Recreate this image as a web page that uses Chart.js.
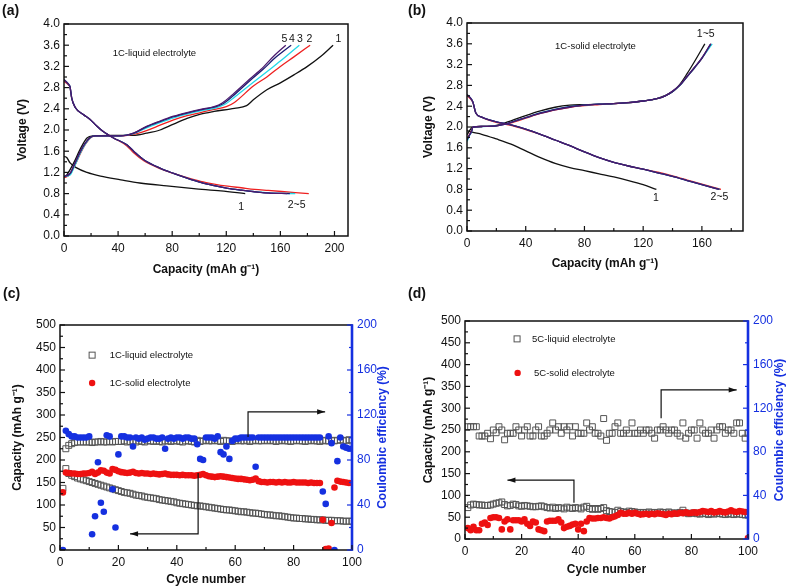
<!DOCTYPE html>
<html><head><meta charset="utf-8">
<script src="https://cdn.jsdelivr.net/npm/chart.js@4/dist/chart.umd.min.js"></script>
<style>
html,body{margin:0;padding:0;background:#fff}
body{width:787px;height:587px;position:relative;overflow:hidden}
canvas{position:absolute}
.lab{position:absolute;font:bold 14px 'Liberation Sans',Arial,sans-serif;color:#111;z-index:5}
</style></head><body>
<div class="lab" style="left:2px;top:2px">(a)</div>
<div class="lab" style="left:408px;top:2px">(b)</div>
<div class="lab" style="left:3px;top:285px">(c)</div>
<div class="lab" style="left:408px;top:285px">(d)</div>
<canvas id="ca" width="395" height="290" style="left:0;top:0"></canvas>
<canvas id="cb" width="387" height="290" style="left:400px;top:0"></canvas>
<canvas id="cc" width="395" height="292" style="left:0;top:295px"></canvas>
<canvas id="cd" width="387" height="292" style="left:400px;top:295px"></canvas>
<script>
// ---------- tick labels ----------
const aXTicks = [0,40,80,120,160,200];
const bXTicks = [0,40,80,120,160];
const vTicks = [0,0.4,0.8,1.2,1.6,2.0,2.4,2.8,3.2,3.6,4.0];
const cycleTicks = [0,20,40,60,80,100];
const capTicks = [0,50,100,150,200,250,300,350,400,450,500];
const ceTicks = [0,40,80,120,160,200];

// ---------- Panel (a): 1C liquid electrolyte, [capacity, voltage] ----------
const aCharge1 = [[0,1.1],[2,1.15],[7,1.37],[12,1.64],[17,1.85],[22,1.89],[35,1.9],[51,1.9],[61,1.94],[71,2.0],[81,2.11],[91,2.22],[101,2.3],[111,2.35],[126,2.41],[135,2.46],[140,2.57],[150,2.76],[160,2.89],[170,3.04],[180,3.2],[190,3.39],[199,3.6]];
const aDis1 = [[0,1.5],[2,1.48],[4.5,1.38],[9,1.29],[17,1.2],[27,1.13],[42,1.06],[56,1.0],[76,0.945],[96,0.895],[116,0.85],[134,0.8]];
const aCharge2 = [[0,1.1],[4,1.15],[8,1.33],[12,1.55],[16,1.74],[20,1.86],[24,1.89],[40,1.89],[47,1.9],[52,1.92],[61,1.99],[71,2.09],[81,2.19],[91,2.27],[101,2.33],[111,2.39],[120,2.44],[126,2.52],[140,2.83],[150,3.0],[160,3.2],[170,3.38],[182,3.6]];
const aDis2 = [[0,2.92],[2,2.88],[4,2.83],[4.5,2.8],[5.7,2.6],[8.2,2.43],[14.4,2.29],[19.3,2.2],[24,2.08],[29,1.97],[36.6,1.85],[46.5,1.7],[51.5,1.57],[59,1.42],[71,1.27],[81,1.18],[91,1.1],[101,1.03],[111,0.98],[121,0.94],[131,0.91],[141,0.88],[151,0.86],[161,0.84],[171,0.82],[181,0.8]];
const aCharge3 = [[0,1.12],[4.5,1.15],[8,1.33],[12,1.56],[15.6,1.73],[19.3,1.85],[23,1.89],[42,1.89],[51.5,1.93],[61,2.04],[71,2.14],[81,2.23],[91,2.3],[101,2.36],[111,2.41],[120,2.5],[126,2.62],[140,2.9],[150,3.1],[160,3.3],[174,3.6]];
const aDis3 = [[0,2.95],[2,2.9],[4,2.84],[4.5,2.81],[5.7,2.6],[8.2,2.43],[14.4,2.29],[19.3,2.2],[24,2.08],[29,1.97],[36.6,1.85],[46.5,1.72],[51.5,1.6],[59,1.44],[71,1.28],[81,1.18],[91,1.09],[101,1.01],[111,0.95],[121,0.9],[131,0.865],[141,0.835],[151,0.815],[161,0.805],[171,0.8]];
const aCharge4 = [[0,1.12],[4.5,1.18],[8,1.37],[12,1.59],[15.6,1.75],[19.3,1.86],[23,1.89],[42,1.89],[51.5,1.94],[61,2.06],[71,2.16],[81,2.25],[91,2.32],[101,2.38],[111,2.43],[118,2.5],[127,2.69],[137,2.92],[147,3.14],[157,3.38],[168,3.6]];
const aDis4 = [[0,2.95],[2,2.9],[4,2.84],[4.5,2.81],[5.7,2.6],[8.2,2.43],[14.4,2.29],[19.3,2.2],[24,2.08],[29,1.97],[36.6,1.85],[46.5,1.72],[51.5,1.6],[59,1.44],[71,1.28],[81,1.18],[91,1.09],[101,1.01],[111,0.95],[121,0.9],[131,0.865],[141,0.835],[151,0.812],[167,0.8]];
const aCharge5 = [[0,1.12],[4.5,1.18],[8,1.37],[12,1.59],[15.6,1.75],[19.3,1.86],[23,1.89],[42,1.89],[51.5,1.94],[61,2.07],[71,2.17],[81,2.26],[91,2.33],[101,2.39],[111,2.44],[117,2.51],[126,2.7],[135.6,2.92],[145.5,3.14],[155,3.39],[164,3.6]];
const aDis5 = [[0,2.95],[2,2.9],[4,2.84],[4.5,2.81],[5.7,2.6],[8.2,2.43],[14.4,2.29],[19.3,2.2],[24,2.08],[29,1.97],[36.6,1.85],[46.5,1.72],[51.5,1.6],[59,1.44],[71,1.28],[81,1.18],[91,1.09],[101,1.01],[111,0.95],[121,0.9],[131,0.865],[141,0.835],[151,0.81],[165,0.8]];
const aTexts = [
  {text:'1C-liquid electrolyte', x:36, y:3.45, align:'left', size:9.5},
  {text:'5', x:163, y:3.72, align:'center', size:10.5},
  {text:'4', x:168.5, y:3.72, align:'center', size:10.5},
  {text:'3', x:174.5, y:3.72, align:'center', size:10.5},
  {text:'2', x:181.5, y:3.72, align:'center', size:10.5},
  {text:'1', x:203, y:3.72, align:'center', size:10.5},
  {text:'1', x:131, y:0.55, align:'center', size:10.5},
  {text:'2~5', x:172, y:0.585, align:'center', size:10.5}
];

// ---------- Panel (b): 1C solid electrolyte ----------
const bCharge1 = [[0,1.85],[4,2.0],[10,2.01],[20,2.03],[30,2.12],[40,2.22],[50,2.31],[60,2.38],[70,2.42],[80,2.43],[100,2.45],[120,2.5],[130,2.55],[140,2.68],[145,2.82],[150,3.03],[155,3.26],[162,3.6]];
const bDis1 = [[0,1.93],[3.5,1.9],[10,1.86],[20,1.77],[30,1.67],[40,1.54],[50,1.41],[60,1.3],[70,1.22],[80,1.16],[90,1.1],[100,1.04],[110,0.97],[120,0.89],[129,0.8]];
const bCharge2 = [[0,1.78],[1.8,1.86],[3,1.92],[4.1,2.0],[10,2.01],[20,2.02],[25,2.05],[30,2.08],[40,2.17],[50,2.26],[60,2.33],[70,2.38],[80,2.41],[90,2.43],[100,2.45],[110,2.47],[120,2.5],[130,2.55],[135,2.6],[140,2.68],[145,2.8],[150,2.97],[155,3.14],[160,3.32],[166.5,3.6]];
const bDis2 = [[0,2.6],[2,2.55],[4,2.47],[6,2.27],[10,2.19],[20,2.09],[30,2.03],[40,1.95],[50,1.86],[60,1.75],[70,1.64],[80,1.52],[90,1.41],[100,1.32],[110,1.25],[120,1.19],[130,1.13],[140,1.06],[150,0.98],[160,0.9],[173,0.8]];
const bCharge3 = [[0,1.72],[1.8,1.84],[3,1.9],[4.1,2.0],[10,2.01],[20,2.02],[25,2.05],[30,2.09],[40,2.18],[50,2.27],[60,2.34],[70,2.39],[80,2.42],[90,2.44],[100,2.45],[110,2.47],[120,2.5],[130,2.55],[135,2.6],[140,2.68],[145,2.8],[150,2.97],[155,3.14],[160,3.32],[167,3.6]];
const bDis3 = [[0,2.62],[2,2.57],[4,2.48],[6,2.27],[10,2.19],[20,2.1],[30,2.04],[40,1.96],[50,1.86],[60,1.75],[70,1.64],[80,1.52],[90,1.41],[100,1.32],[110,1.25],[120,1.19],[130,1.12],[140,1.05],[150,0.97],[160,0.89],[172,0.8]];
const bCharge4 = [[0,1.75],[1.8,1.85],[3,1.91],[4.1,2.0],[10,2.01],[20,2.02],[25,2.05],[30,2.09],[40,2.18],[50,2.27],[60,2.34],[70,2.39],[80,2.42],[90,2.44],[100,2.45],[110,2.47],[120,2.5],[130,2.55],[135,2.6],[140,2.68],[145,2.8],[150,2.97],[155,3.14],[160,3.32],[166,3.6]];
const bDis4 = [[0,2.62],[2,2.57],[4,2.48],[6,2.27],[10,2.19],[20,2.1],[30,2.04],[40,1.96],[50,1.86],[60,1.75],[70,1.64],[80,1.52],[90,1.41],[100,1.32],[110,1.25],[120,1.19],[130,1.12],[140,1.05],[150,0.97],[160,0.89],[172,0.8]];
const bCharge5 = [[0,1.76],[1.8,1.85],[3,1.91],[4.1,2.0],[10,2.01],[20,2.02],[25,2.05],[30,2.09],[40,2.18],[50,2.26],[60,2.33],[70,2.38],[80,2.42],[90,2.44],[100,2.45],[110,2.47],[120,2.5],[130,2.55],[135,2.6],[140,2.69],[145,2.81],[150,2.98],[155,3.15],[160,3.33],[166,3.6]];
const bDis5 = [[0,2.62],[2,2.57],[4,2.48],[6,2.27],[10,2.19],[20,2.1],[30,2.04],[40,1.96],[50,1.86],[60,1.75],[70,1.64],[80,1.52],[90,1.41],[100,1.32],[110,1.25],[120,1.19],[130,1.12],[140,1.05],[150,0.97],[160,0.89],[171.5,0.8]];
const bTexts = [
  {text:'1C-solid electrolyte', x:60, y:3.56, align:'left', size:9.5},
  {text:'1~5', x:162.6, y:3.79, align:'center', size:10.5},
  {text:'1', x:128.6, y:0.63, align:'center', size:10.5},
  {text:'2~5', x:172, y:0.65, align:'center', size:10.5}
];

// ---------- Panel (c): 1C cycling ----------
const cycles = [1,2,3,4,5,6,7,8,9,10,11,12,13,14,15,16,17,18,19,20,21,22,23,24,25,26,27,28,29,30,31,32,33,34,35,36,37,38,39,40,41,42,43,44,45,46,47,48,49,50,51,52,53,54,55,56,57,58,59,60,61,62,63,64,65,66,67,68,69,70,71,72,73,74,75,76,77,78,79,80,81,82,83,84,85,86,87,88,89,90,91,92,93,94,95,96,97,98,99,100];
const cLiqCap = [137,181,170,166,163,160,158,156,154,152,150,148,146,144,142,140,138,136,134,132,130,128,127,126,124,122,121,120,118,117,116,115,114,112,111,110,109,108,107,105,104,103,102,101,100,99,98,98,97,96,95,94,93,92,91,90,89,89,88,87,86,85,85,84,83,82,82,81,80,79,78,78,77,76,76,75,74,73,72,71,71,70,70,69,69,68,68,67,67,67,66,66,66,65,65,65,64,64,64,64];
const cLiqCE = [null,90,93,94.5,95.5,96,96,96,96,96,95.5,96,96,96.5,96,96,96.5,96,96.5,96.5,96.5,97,96,96.5,97,96,97,96.5,96,97,97,96.5,97,96.5,96,97,97,96.5,97,97,96.5,96,97,97,96.5,96,97.5,96.5,97,97.5,97,97,97.5,97,96.5,97.5,97,97,96.5,97,97.5,97,97,97.5,96.5,97,97.5,97,97,97.5,97,97.5,97,96.5,97,97.5,97,97,96.5,97,97.5,97,97,96.5,97,97.5,97,97,96.5,97.5,97,97,97.5,97,97.5,98,97,97.5,98,97];
const cSolCap = [128,172,171,170,170,169,169,170,170,171,174,169,172,177,176,172,170,180,178,175,173,172,171,172,174,171,170,171,170,170,169,170,169,168,169,170,168,167,167,167,166,167,166,166,166,165,166,167,169,166,164,163,162,163,164,163,162,161,160,159,158,158,157,156,155,156,159,153,151,151,150,151,151,150,151,150,151,150,150,151,150,150,150,150,149,150,149,149,149,67,2,3,60,139,154,152,151,150,149,149];
const cSolCE = [0,106,103,101,101,100,100,100,100,101,14,30,78,42,34,102,101,54,20,85,101,101,100,100,92,100,99,100,98,99,100,100,99,99,100,90,99,100,99,100,100,99,100,100,99,99,94,81,80,100,100,100,99,101,87,85,92,81,97,99,99,100,100,100,100,100,74,100,100,100,100,100,100,100,100,100,100,100,100,100,100,100,100,100,100,100,100,100,100,52,41,101,95,0,79,100,92,91,90,90];
const cArrows = [[[64.4,251],[64.4,307],[90.8,307]], [[47.3,171],[47.3,36],[24,36]]];
const cLegend = [
  {style:'rect', color:'#555', mx:11, my:433, tx:17, text:'1C-liquid electrolyte'},
  {style:'circle', color:'#ee1111', mx:11, my:371, tx:17, text:'1C-solid electrolyte'}
];

// ---------- Panel (d): 5C cycling ----------
const dLiqCap = [72,78,80,79,78,78,77,77,78,80,82,83,85,79,76,77,80,79,76,75,77,76,75,74,74,75,76,74,72,71,73,70,72,71,69,73,71,70,72,71,69,73,75,70,68,70,68,70,72,65,63,62,61,66,63,62,61,64,63,62,61,60,61,60,62,60,61,60,62,61,60,62,60,59,60,61,66,60,58,59,60,58,57,59,58,56,58,57,59,58,57,56,58,57,56,58,57,56,55,55];
const dLiqCE = [103,103,103,103,94.5,94.5,94.5,97,92,100,97.5,103,100,91,97,97,97,103,100,94.5,100,103,94.5,94.5,100,103,94.5,94.5,97,100,106.5,100,103,97,103,100,103,94.5,103,97,97,97,106.5,100,103,97,97,94.5,110.5,90.5,97,97,103,106.5,97,97,100,97,106.5,97,97,100,97,100,100,97,92.5,100,100,103,100,97,100,100,97,94.5,106.5,92.5,97,100,100,92.5,106.5,100,97,97,100,92.5,100,103,103,97,100,100,97,106.5,106.5,97,92.5,97];
const dSolCap = [25,20,28,20,20,35,38,32,48,50,50,48,22,40,45,22,43,43,43,40,45,35,30,40,38,22,20,18,40,42,42,42,45,38,25,28,30,33,35,22,35,18,40,48,47,47,48,48,50,48,47,50,52,55,60,58,58,60,58,60,58,56,57,58,56,58,57,59,58,57,55,58,57,59,58,60,59,61,59,60,61,60,62,64,63,62,64,61,62,64,62,61,63,66,63,62,64,63,62,2];
const dArrows = [[[69.3,277],[69.3,342],[96,342]], [[38.5,83],[38.5,135],[15,135]]];
const dLegend = [
  {style:'rect', color:'#555', mx:18.4, my:459, tx:23.7, text:'5C-liquid electrolyte'},
  {style:'circle', color:'#ee1111', mx:18.6, my:381, tx:24.4, text:'5C-solid electrolyte'}
];

const COL = {c1:'#111111', c2:'#ee2020', c3:'#22d8e8', c4:'#1a1a70', c5:'#4a1a6e'};
const BLUE = '#1530e0';
const FONT = "'Liberation Sans', Arial, Helvetica, sans-serif";
Chart.defaults.font.family = FONT;
Chart.defaults.color = '#111';

const deco = {
  id: 'deco',
  afterDatasetsDraw(chart, args, o) {
    const ctx = chart.ctx, a = chart.chartArea;
    ctx.save();
    ctx.strokeStyle = '#111'; ctx.lineWidth = 1.5;
    ctx.strokeRect(a.left, a.top, a.right - a.left, a.bottom - a.top);
    if (o.rightLine) {
      ctx.strokeStyle = o.rightLine; ctx.lineWidth = 2.6;
      ctx.beginPath(); ctx.moveTo(a.right, a.top - 0.7); ctx.lineTo(a.right, a.bottom + 0.7); ctx.stroke();
    }
    (o.ticks || []).forEach(t => {
      const s = chart.scales[t.id];
      ctx.strokeStyle = t.color || '#111'; ctx.lineWidth = 1.2;
      const n = Math.floor((s.max - s.min) / t.minor + 1e-6);
      for (let i = 0; i <= n; i++) {
        const v = s.min + i * t.minor;
        const r = v / t.major;
        const major = Math.abs(r - Math.round(r)) < 1e-6;
        const L = major ? 5 : 3;
        const p = s.getPixelForValue(v);
        ctx.beginPath();
        if (t.side === 'bottom') { ctx.moveTo(p, a.bottom); ctx.lineTo(p, a.bottom - L); }
        else if (t.side === 'left') { ctx.moveTo(a.left, p); ctx.lineTo(a.left + L, p); }
        else { ctx.moveTo(a.right, p); ctx.lineTo(a.right - L, p); }
        ctx.stroke();
      }
    });
    const sx = chart.scales.x, sy = chart.scales.y;
    (o.texts || []).forEach(t => {
      ctx.fillStyle = '#111';
      ctx.font = t.size + 'px ' + FONT;
      ctx.textAlign = t.align; ctx.textBaseline = 'middle';
      ctx.fillText(t.text, sx.getPixelForValue(t.x), sy.getPixelForValue(t.y));
    });
    (o.arrows || []).forEach(pts => {
      ctx.strokeStyle = '#111'; ctx.fillStyle = '#111'; ctx.lineWidth = 1.2;
      const P = pts.map(p => [sx.getPixelForValue(p[0]), sy.getPixelForValue(p[1])]);
      ctx.beginPath(); ctx.moveTo(P[0][0], P[0][1]);
      for (let i = 1; i < P.length; i++) ctx.lineTo(P[i][0], P[i][1]);
      ctx.stroke();
      const e = P[P.length - 1], b = P[P.length - 2];
      const ang = Math.atan2(e[1] - b[1], e[0] - b[0]);
      ctx.beginPath();
      ctx.moveTo(e[0], e[1]);
      ctx.lineTo(e[0] - 8 * Math.cos(ang) + 2.6 * Math.sin(ang), e[1] - 8 * Math.sin(ang) - 2.6 * Math.cos(ang));
      ctx.lineTo(e[0] - 8 * Math.cos(ang) - 2.6 * Math.sin(ang), e[1] - 8 * Math.sin(ang) + 2.6 * Math.cos(ang));
      ctx.closePath(); ctx.fill();
    });
    (o.legend || []).forEach(l => {
      const mx = sx.getPixelForValue(l.mx), my = sy.getPixelForValue(l.my);
      ctx.lineWidth = 1;
      if (l.style === 'rect') {
        ctx.strokeStyle = l.color; ctx.strokeRect(mx - 3, my - 3, 6, 6);
      } else {
        ctx.fillStyle = l.color; ctx.beginPath(); ctx.arc(mx, my, 3.2, 0, Math.PI * 2); ctx.fill();
      }
      ctx.fillStyle = '#111'; ctx.font = '9.5px ' + FONT;
      ctx.textAlign = 'left'; ctx.textBaseline = 'middle';
      ctx.fillText(l.text, sx.getPixelForValue(l.tx), my);
    });
    if (o.rightTitle) {
      ctx.save();
      ctx.translate(o.rightTitle.x, (a.top + a.bottom) / 2);
      ctx.rotate(-Math.PI / 2);
      ctx.fillStyle = o.rightTitle.color;
      ctx.font = 'bold 12px ' + FONT;
      ctx.textAlign = 'center'; ctx.textBaseline = 'middle';
      ctx.fillText(o.rightTitle.text, 0, 0);
      ctx.restore();
    }
    ctx.restore();
  }
};

function pairs(arr) { return arr.map(p => ({x: p[0], y: p[1]})); }
function series(ys) { const out = []; ys.forEach((v, i) => { if (v !== null) out.push({x: cycles[i], y: v}); }); return out; }
function lineDs(arr, color) {
  return {data: pairs(arr), showLine: true, borderColor: color, backgroundColor: color, borderWidth: 1.3, pointRadius: 0, cubicInterpolationMode: 'monotone'};
}
function fixTicks(list) { return s => { s.ticks = list.map(v => ({value: v})); }; }
const GRID = {display: false, drawTicks: false};

function voltChart(id, xmax, xTicks, dsList, texts, yW, xH, pad, xTitlePad, yTitlePad) {
  return new Chart(document.getElementById(id), {
    type: 'scatter',
    data: {datasets: dsList},
    options: {
      responsive: false, animation: false, events: [],
      layout: {padding: pad},
      plugins: {legend: {display: false}, tooltip: {enabled: false},
        deco: {texts: texts, ticks: [{id: 'x', side: 'bottom', major: 40, minor: 20}, {id: 'y', side: 'left', major: 0.4, minor: 0.2}]}},
      scales: {
        x: {type: 'linear', min: 0, max: xmax,
          ticks: {padding: 5, font: {size: 12}, color: '#111', callback: v => String(v)},
          afterBuildTicks: fixTicks(xTicks),
          grid: GRID, border: {display: false},
          title: {display: true, text: 'Capacity (mAh g\u207B\u00B9)', font: {size: 12, weight: 'bold'}, color: '#111', padding: {top: 0, bottom: xTitlePad}},
          afterFit: s => { s.height = xH; }},
        y: {type: 'linear', min: 0, max: 4.0,
          ticks: {padding: 4, font: {size: 12}, color: '#111', callback: v => Number(v).toFixed(1)},
          afterBuildTicks: fixTicks(vTicks),
          grid: GRID, border: {display: false},
          title: {display: true, text: 'Voltage (V)', font: {size: 12, weight: 'bold'}, color: '#111', padding: {top: yTitlePad, bottom: 0}},
          afterFit: s => { s.width = yW; }}
      }
    },
    plugins: [deco]
  });
}

voltChart('ca', 210, aXTicks, [
  lineDs(aDis5, COL.c5), lineDs(aCharge5, COL.c5),
  lineDs(aDis4, COL.c4), lineDs(aCharge4, COL.c4),
  lineDs(aDis3, COL.c3), lineDs(aCharge3, COL.c3),
  lineDs(aDis2, COL.c2), lineDs(aCharge2, COL.c2),
  lineDs(aDis1, COL.c1), lineDs(aCharge1, COL.c1)
], aTexts, 64, 54, {left: 0, top: 24, right: 47, bottom: 0}, 13, 15);

voltChart('cb', 188, bXTicks, [
  lineDs(bDis5, COL.c5), lineDs(bCharge5, COL.c5),
  lineDs(bDis4, COL.c4), lineDs(bCharge4, COL.c4),
  lineDs(bDis3, COL.c3), lineDs(bCharge3, COL.c3),
  lineDs(bDis2, COL.c2), lineDs(bCharge2, COL.c2),
  lineDs(bDis1, COL.c1), lineDs(bCharge1, COL.c1)
], bTexts, 67, 59, {left: 0, top: 23, right: 44, bottom: 0}, 19, 21);

function cycleChart(id, dsList, arrows, legend, yW, y2W, xH, pad, xTitlePad, yTitlePad, rtX) {
  return new Chart(document.getElementById(id), {
    type: 'scatter',
    data: {datasets: dsList},
    options: {
      responsive: false, animation: false, events: [],
      layout: {padding: pad},
      plugins: {legend: {display: false}, tooltip: {enabled: false},
        deco: {arrows: arrows, legend: legend, rightLine: BLUE,
          rightTitle: {x: rtX, text: 'Coulombic efficiency (%)', color: BLUE},
          ticks: [{id: 'x', side: 'bottom', major: 20, minor: 10}, {id: 'y', side: 'left', major: 50, minor: 25}, {id: 'y2', side: 'right', major: 40, minor: 20, color: BLUE}]}},
      scales: {
        x: {type: 'linear', min: 0, max: 100,
          ticks: {padding: 5, font: {size: 12}, color: '#111'},
          afterBuildTicks: fixTicks(cycleTicks),
          grid: GRID, border: {display: false},
          title: {display: true, text: 'Cycle number', font: {size: 12, weight: 'bold'}, color: '#111', padding: {top: 0, bottom: xTitlePad}},
          afterFit: s => { s.height = xH; }},
        y: {type: 'linear', position: 'left', min: 0, max: 500,
          ticks: {padding: 4, font: {size: 12}, color: '#111'},
          afterBuildTicks: fixTicks(capTicks),
          grid: GRID, border: {display: false},
          title: {display: true, text: 'Capacity (mAh g\u207B\u00B9)', font: {size: 12, weight: 'bold'}, color: '#111', padding: {top: yTitlePad, bottom: 0}},
          afterFit: s => { s.width = yW; }},
        y2: {type: 'linear', position: 'right', min: 0, max: 200,
          ticks: {padding: 5, font: {size: 12}, color: BLUE},
          afterBuildTicks: fixTicks(ceTicks),
          grid: GRID, border: {display: false},
          afterFit: s => { s.width = y2W; }}
      }
    },
    plugins: [deco]
  });
}
function dots(data, color, axis) {
  return {data: data, yAxisID: axis, pointStyle: 'circle', pointRadius: 3.3, borderWidth: 0, backgroundColor: color, borderColor: color};
}
function squares(data, axis) {
  return {data: data, yAxisID: axis, pointStyle: 'rect', pointRadius: 4.2, borderWidth: 1, backgroundColor: 'rgba(0,0,0,0)', borderColor: '#555'};
}

cycleChart('cc', [
  dots(series(cSolCE), BLUE, 'y2'),
  dots(series(cSolCap), '#ee1111', 'y'),
  squares(series(cLiqCE), 'y2'),
  squares(series(cLiqCap), 'y')
], cArrows, cLegend, 60, 43, 37, {left: 0, top: 30, right: 0, bottom: 0}, 0, 10, 383);

cycleChart('cd', [
  dots(series(dSolCap), '#ee1111', 'y'),
  squares(series(dLiqCE), 'y2'),
  squares(series(dLiqCap), 'y')
], dArrows, dLegend, 65, 39, 48, {left: 0, top: 26, right: 0, bottom: 0}, 10, 21, 380);
</script>
</body></html>
